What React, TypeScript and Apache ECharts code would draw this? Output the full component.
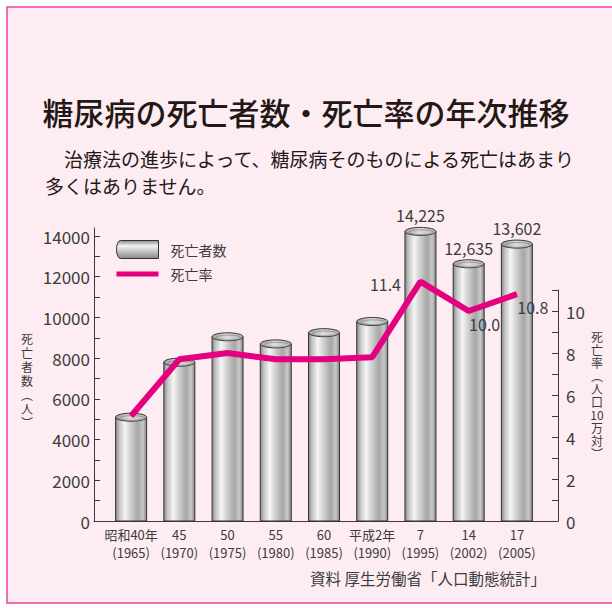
import React, { useEffect, useRef } from "react";
import * as echarts from "echarts";

const eraLabels = ["昭和40年", "45", "50", "55", "60", "平成2年", "7", "14", "17"];
const yearLabels = ["1965", "1970", "1975", "1980", "1985", "1990", "1995", "2002", "2005"];
const deaths = [5100, 7800, 9050, 8700, 9250, 9800, 14225, 12635, 13602];
const deathRate = [5.0, 7.7, 8.0, 7.7, 7.7, 7.8, 11.4, 10.0, 10.8];
const labeledBars = [6, 7, 8];
const labeledRates = [6, 7, 8];
const leftTicks = { min: 0, max: 14000, step: 1000, labelStep: 2000 };
const rightTicks = { min: 0, max: 11, step: 1, labelStep: 2 };

const FONT = "'Noto Sans CJK JP', 'Noto Sans', sans-serif";
const MAGENTA = "#e4007f";
const TEXT = "#3c3c3c";
const AXIS = "#3a3a3a";

const bodyGrad = new echarts.graphic.LinearGradient(0, 0, 1, 0, [
  { offset: 0, color: "#8a8a8a" },
  { offset: 0.12, color: "#c4c4c4" },
  { offset: 0.3, color: "#f5f5f5" },
  { offset: 0.5, color: "#cdcdcd" },
  { offset: 0.72, color: "#a6a6a6" },
  { offset: 0.88, color: "#c8c8c8" },
  { offset: 1, color: "#858585" },
]);
const topGrad = new echarts.graphic.LinearGradient(0, 0, 1, 0, [
  { offset: 0, color: "#9c9c9c" },
  { offset: 0.45, color: "#dcdcdc" },
  { offset: 1, color: "#b4b4b4" },
]);
const legendGrad = new echarts.graphic.LinearGradient(0, 0, 0, 1, [
  { offset: 0, color: "#8a8a8a" },
  { offset: 0.3, color: "#f3f3f3" },
  { offset: 0.6, color: "#c4c4c4" },
  { offset: 1, color: "#8a8a8a" },
]);

const rateLabelOffset: Record<number, [number, number]> = {
  6: [-35, 2],
  7: [16, 13],
  8: [16, 13],
};

export default function App() {
  const ref = useRef<HTMLDivElement>(null);
  useEffect(() => {
    if (!ref.current) return;
    const chart = echarts.init(ref.current, null, { renderer: "svg" });
    const categories = eraLabels.map((e, i) => `${e}\n(${yearLabels[i]})`);

    const option: any = {
      animation: false,
      textStyle: { fontFamily: FONT },
      title: [
        {
          text: "糖尿病の死亡者数・死亡率の年次推移",
          left: "center",
          top: 96,
          padding: 0,
          textStyle: { fontFamily: FONT, fontSize: 31, fontWeight: 500, color: "#231815" },
        },
        {
          text: "　治療法の進歩によって、糖尿病そのものによる死亡はあまり\n多くはありません。",
          left: 45,
          top: 145,
          padding: 0,
          textStyle: { fontFamily: FONT, fontSize: 19, fontWeight: "normal", color: "#231815", lineHeight: 27 },
        },
        {
          text: "資料 厚生労働省「人口動態統計」",
          right: 66,
          top: 570,
          padding: 0,
          textStyle: { fontFamily: FONT, fontSize: 15.5, fontWeight: "normal", color: TEXT },
        },
      ],
      legend: {
        orient: "vertical",
        left: 116,
        top: 240,
        padding: 0,
        itemWidth: 42,
        itemHeight: 18,
        itemGap: 8,
        selectedMode: false,
        textStyle: { fontFamily: FONT, fontSize: 14, color: TEXT, padding: [0, 0, 0, 7] },
        data: [
          {
            name: "死亡者数",
            icon: "path://M4,0 L42,0 L42,18 L4,18 A4,9 0 0 1 4,0 Z",
            itemStyle: { color: legendGrad, borderColor: "#333", borderWidth: 1 },
          },
          {
            name: "死亡率",
            icon: "path://M0,0 L42,0 L42,5 L0,5 Z",
            itemStyle: { color: MAGENTA, borderWidth: 0 },
          },
        ],
      },
      graphic: {
        elements: [
          {
            type: "rect",
            z: -100,
            shape: { x: 7, y: 7, width: 640, height: 596 },
            style: { fill: "#fdedf3", stroke: "#e8439a", lineWidth: 1.5 },
            silent: true,
          },
          {
            type: "text",
            x: 27,
            y: 380,
            style: {
              text: "死\n亡\n者\n数\n︵\n人\n︶",
              font: `12px ${FONT}`,
              fill: TEXT,
              align: "center",
              verticalAlign: "middle",
              lineHeight: 14,
            },
          },
          {
            type: "text",
            x: 597,
            y: 395,
            style: {
              text: "死\n亡\n率\n︵\n人\n口\n10\n万\n対\n︶",
              font: `12px ${FONT}`,
              fill: TEXT,
              align: "center",
              verticalAlign: "middle",
              lineHeight: 13,
            },
          },
        ],
      },
      grid: [
        { left: 107, right: 71, top: 236, bottom: 87 },
        { left: 107, right: 71, top: 290, bottom: 87 },
        { left: 94, right: 54, top: 228, bottom: 87 },
      ],
      xAxis: [
        {
          type: "category",
          gridIndex: 0,
          data: categories,
          axisLine: { show: false },
          axisTick: { show: false },
          axisLabel: {
            interval: 0,
            margin: 4,
            fontFamily: FONT,
            fontSize: 13,
            lineHeight: 18,
            color: TEXT,
          },
        },
        { type: "category", gridIndex: 1, data: categories, show: false },
        {
          type: "value",
          gridIndex: 2,
          min: 0,
          max: 1,
          axisLine: { show: true, onZero: false, lineStyle: { color: AXIS, width: 1 } },
          axisTick: { show: false },
          axisLabel: { show: false },
          splitLine: { show: false },
        },
      ],
      yAxis: [
        {
          type: "value",
          gridIndex: 0,
          min: leftTicks.min,
          max: leftTicks.max,
          interval: leftTicks.step,
          offset: 13,
          axisLine: { show: false },
          axisTick: { show: true, inside: true, length: 6, lineStyle: { color: AXIS } },
          axisLabel: {
            margin: 4,
            fontFamily: FONT,
            fontSize: 17,
            color: TEXT,
            formatter: (v: number) => (v % leftTicks.labelStep === 0 ? String(v) : ""),
          },
          splitLine: { show: false },
        },
        {
          type: "value",
          gridIndex: 1,
          position: "right",
          min: rightTicks.min,
          max: rightTicks.max,
          interval: rightTicks.step,
          offset: 17,
          axisLine: { show: true, onZero: false, lineStyle: { color: AXIS, width: 1 } },
          axisTick: { show: true, inside: true, length: 6, lineStyle: { color: AXIS } },
          axisLabel: {
            margin: 8,
            fontFamily: FONT,
            fontSize: 17,
            color: TEXT,
            formatter: (v: number) => (v % rightTicks.labelStep === 0 ? String(v) : ""),
          },
          splitLine: { show: false },
        },
        {
          type: "value",
          gridIndex: 2,
          min: 0,
          max: 1,
          axisLine: { show: true, onZero: false, lineStyle: { color: AXIS, width: 1 } },
          axisTick: { show: false },
          axisLabel: { show: false },
          splitLine: { show: false },
        },
      ],
      series: [
        {
          name: "死亡者数",
          type: "custom",
          xAxisIndex: 0,
          yAxisIndex: 0,
          encode: { x: 0, y: 1 },
          clip: false,
          data: deaths.map((v, i) => [i, v]),
          itemStyle: { color: "#c0c0c0" },
          renderItem: (params: any, api: any) => {
            const idx = api.value(0);
            const val = api.value(1);
            const top = api.coord([idx, val]);
            const bot = api.coord([idx, 0]);
            const w = 31;
            const ry = 4;
            const children: any[] = [
              {
                type: "rect",
                shape: { x: top[0] - w / 2, y: top[1], width: w, height: bot[1] - top[1] },
                style: { fill: bodyGrad, stroke: "#333", lineWidth: 1 },
              },
              {
                type: "ellipse",
                shape: { cx: top[0], cy: top[1], rx: w / 2, ry },
                style: { fill: topGrad, stroke: "#333", lineWidth: 1 },
              },
              {
                type: "ellipse",
                shape: { cx: top[0] + 1, cy: top[1] + 0.8, rx: w / 2 - 3, ry: ry - 1.6 },
                style: { fill: "none", stroke: "#8a8a8a", lineWidth: 0.8 },
              },
            ];
            if (labeledBars.indexOf(idx) >= 0) {
              children.push({
                type: "text",
                x: top[0],
                y: top[1] - 8,
                style: {
                  text: val.toLocaleString("en-US"),
                  font: `16px ${FONT}`,
                  fill: TEXT,
                  align: "center",
                  verticalAlign: "bottom",
                },
              });
            }
            return { type: "group", children };
          },
        },
        {
          name: "死亡率",
          type: "line",
          xAxisIndex: 1,
          yAxisIndex: 1,
          symbol: "circle",
          symbolSize: 1,
          showSymbol: true,
          clip: false,
          lineStyle: { color: MAGENTA, width: 6 },
          itemStyle: { color: MAGENTA },
          z: 5,
          data: deathRate.map((v, i) =>
            labeledRates.indexOf(i) >= 0
              ? {
                  value: v,
                  label: {
                    show: true,
                    position: "inside",
                    offset: rateLabelOffset[i],
                    formatter: v.toFixed(1),
                    fontFamily: FONT,
                    fontSize: 16,
                    color: TEXT,
                  },
                }
              : v
          ),
        },
      ],
    };
    chart.setOption(option);
    return () => chart.dispose();
  }, []);
  return (
    <div
      ref={ref}
      style={{ position: "absolute", left: 0, top: 0, width: 612, height: 608, background: "#ffffff" }}
    />
  );
}
